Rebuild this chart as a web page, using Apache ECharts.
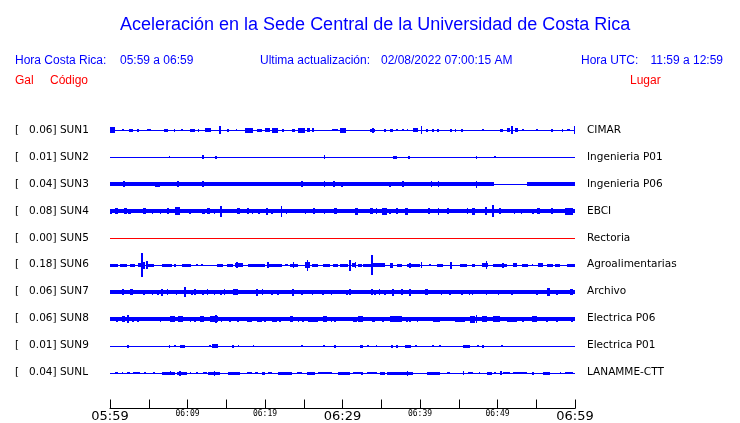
<!DOCTYPE html>
<html>
<head>
<meta charset="utf-8">
<script src="https://cdn.jsdelivr.net/npm/echarts@6/dist/echarts.min.js"></script>
<style>
  html, body { margin: 0; padding: 0; background: #fff; }
  #chart { width: 740px; height: 423px; }
</style>
</head>
<body>
<div id="chart"></div>
<script>
// estaciones, de arriba hacia abajo
const codes = ["SUN1", "SUN2", "SUN3", "SUN4", "SUN5", "SUN6", "SUN7", "SUN8", "SUN9", "SUNL"]
const galValues = ["0.06", "0.01", "0.04", "0.08", "0.00", "0.18", "0.06", "0.06", "0.01", "0.04"]
const places = ["CIMAR", "Ingenieria P01", "Ingenieria P06", "EBCI", "Rectoria", "Agroalimentarias",
  "Archivo", "Electrica P06", "Electrica P01", "LANAMME-CTT"]

// etiquetas del eje de tiempo (minutos 0..60 cada 5)
const tickLabels = ["05:59", "", "06:09", "", "06:19", "", "06:29", "", "06:39", "", "06:49", "", "06:59"]
const bigTicks = ["05:59", "06:29", "06:59"]

// envolvente de cada traza: [minuto inicio, minuto fin, amplitud (centesimas del espaciado)]
const sun1 = [[0, 60, 2], [0, 0.6, 11], [1.6, 1.8, 4], [2.5, 3.0, 6], [3.5, 3.7, 6], [4.8, 5.3, 4], [7.0, 7.5, 6],
  [8.2, 8.4, 6], [9.2, 9.4, 4], [10.3, 11.0, 6], [11.3, 11.5, 6], [12.3, 13.0, 7], [14.1, 14.3, 15], [15.1, 15.3, 6],
  [16.2, 16.4, 4], [17.4, 18.4, 9], [19.0, 19.6, 6], [20.0, 20.6, 7], [20.9, 21.7, 9], [22.2, 22.4, 6], [23.5, 23.9, 6],
  [24.3, 25.2, 9], [25.4, 25.8, 7], [26.1, 26.3, 7], [28.6, 29.4, 4], [29.7, 30.4, 9], [33.5, 34.2, 6], [33.8, 34.0, 9],
  [35.4, 35.6, 6], [36.1, 36.5, 6], [36.9, 37.1, 4], [37.7, 37.9, 4], [38.3, 38.5, 4], [39.1, 39.7, 7], [40.1, 40.3, 15],
  [40.8, 41.0, 6], [41.6, 41.8, 6], [42.2, 42.4, 6], [43.9, 44.1, 6], [44.5, 44.7, 6], [45.3, 45.5, 6], [48.0, 48.2, 4],
  [50.3, 50.7, 6], [51.2, 51.6, 7], [51.8, 52.0, 15], [52.2, 52.6, 7], [53.2, 53.4, 4], [55.0, 55.2, 4], [56.9, 57.1, 6],
  [58.3, 58.5, 6], [59.0, 59.3, 4], [59.85, 60, 15]]
const sun2 = [[0, 60, 2], [7.6, 7.8, 4], [11.9, 12.1, 8], [13.6, 13.8, 5], [27.6, 27.8, 7], [36.5, 37.0, 6],
  [38.5, 38.7, 6], [47.2, 47.4, 6], [49.6, 49.8, 4]]
const sun3 = [[0, 49.5, 7], [49.5, 53.8, 2], [53.8, 60, 7], [1.7, 1.9, 11], [5.8, 6.5, 9], [8.7, 8.9, 11],
  [11.9, 12.1, 11], [22.9, 23.1, 8], [24.7, 24.9, 11], [27.6, 27.8, 11], [28.8, 29.0, 11], [29.8, 30.0, 9],
  [35.0, 35.2, 8], [36.0, 36.2, 10], [37.7, 37.9, 11], [41.4, 41.6, 11], [42.3, 42.5, 11], [47.2, 47.4, 13], [48.1, 49.4, 8]]
const sun4 = [[0, 60, 7], [0, 0.2, 9], [0.6, 1.0, 11], [1.8, 2.2, 11], [2.3, 2.7, 9], [4.3, 4.6, 11], [5.4, 5.6, 9],
  [6.4, 6.6, 9], [7.4, 7.6, 11], [8.4, 9.0, 15], [10.2, 10.4, 9], [11.9, 12.3, 9], [12.5, 12.9, 11], [13.4, 13.6, 9],
  [14.2, 14.4, 20], [16.4, 16.8, 11], [17.7, 17.9, 11], [18.3, 18.5, 9], [19.1, 19.3, 9], [20.1, 20.4, 13], [20.8, 21.0, 9],
  [22.0, 22.2, 20], [22.7, 22.9, 9], [25.1, 25.3, 9], [26.2, 26.4, 11], [27.6, 27.8, 9], [28.9, 29.3, 11], [31.6, 32.0, 13],
  [33.5, 33.9, 11], [34.3, 34.5, 11], [35.1, 35.7, 13], [36.0, 36.2, 9], [36.9, 37.1, 11], [38.1, 38.4, 13], [41.0, 41.3, 11],
  [42.3, 42.5, 13], [43.5, 43.7, 11], [46.0, 46.2, 11], [46.7, 47.1, 13], [48.4, 48.6, 15], [49.3, 49.5, 22], [50.2, 50.4, 11],
  [52.1, 52.3, 9], [53.0, 53.2, 9], [54.5, 54.7, 9], [55.1, 55.5, 11], [56.9, 57.1, 11], [58.7, 59.7, 13]]
const sun5 = [[0, 60, 2]]
const sun6 = [[0, 60, 2], [0, 1.0, 6], [1.3, 2.2, 5], [2.6, 3.2, 6], [3.6, 4.0, 7], [4.05, 4.2, 44], [4.3, 4.5, 13],
  [4.7, 4.9, 15], [4.9, 5.7, 6], [6.7, 8.0, 6], [8.3, 8.5, 6], [9.3, 10.4, 6], [11.1, 11.3, 4], [11.8, 12.0, 4],
  [13.8, 14.6, 6], [15.1, 15.9, 6], [16.1, 17.2, 8], [16.3, 16.5, 11], [17.8, 20.0, 5], [20.3, 20.5, 11], [20.4, 22.2, 6],
  [22.6, 23.0, 4], [23.2, 24.3, 6], [23.6, 23.8, 11], [25.2, 25.8, 11], [25.4, 25.6, 20], [26.1, 26.8, 6], [27.5, 28.4, 6],
  [28.8, 29.4, 6], [29.7, 30.7, 5], [30.9, 31.1, 20], [31.2, 31.6, 8], [31.6, 31.8, 11], [32.0, 32.5, 6], [32.6, 33.8, 6],
  [33.7, 33.9, 37], [33.9, 35.5, 7], [36.1, 36.5, 9], [37.0, 37.7, 5], [38.3, 40.0, 6], [38.6, 38.8, 9], [40.1, 40.3, 11],
  [41.2, 41.4, 4], [42.2, 43.0, 5], [43.9, 44.1, 13], [45.2, 46.1, 6], [46.7, 47.1, 6], [48.0, 48.8, 8], [48.5, 48.7, 15],
  [49.4, 51.2, 6], [50.6, 50.8, 9], [52.0, 52.5, 8], [53.1, 53.9, 6], [54.4, 54.6, 4], [55.2, 55.9, 7], [56.4, 57.1, 6],
  [57.4, 58.1, 5], [59.0, 60, 6]]
const sun7 = [[0, 60, 7], [1.6, 1.8, 11], [2.6, 3.0, 11], [4.3, 4.5, 9], [5.4, 5.6, 9], [6.1, 6.3, 9], [6.6, 6.8, 13],
  [7.3, 7.5, 11], [8.5, 8.7, 9], [9.5, 9.8, 18], [10.5, 10.7, 9], [10.9, 11.1, 11], [11.9, 12.1, 9], [12.5, 12.7, 11],
  [13.4, 13.6, 9], [14.2, 14.4, 9], [14.7, 14.9, 11], [15.9, 16.5, 11], [18.9, 19.1, 13], [19.6, 19.8, 11], [20.8, 21.0, 9],
  [21.6, 21.8, 9], [23.5, 23.8, 13], [24.7, 24.9, 9], [26.0, 26.2, 9], [27.4, 27.6, 9], [28.5, 28.7, 9], [30.5, 30.7, 9],
  [30.9, 31.1, 11], [33.7, 33.9, 11], [34.1, 34.3, 9], [34.7, 34.9, 11], [35.4, 35.6, 9], [36.4, 36.6, 13], [37.6, 37.8, 11],
  [38.6, 38.8, 13], [40.6, 41.0, 11], [42.7, 42.9, 9], [43.8, 44.0, 9], [45.3, 45.5, 9], [46.3, 46.5, 9], [46.7, 46.9, 9],
  [48.5, 48.7, 9], [50.0, 50.2, 9], [51.8, 52.0, 9], [55.0, 55.2, 9], [56.4, 56.8, 15], [57.6, 57.8, 9], [59.3, 59.7, 11]]
const sun8 = [[0, 60, 7], [0.8, 1.0, 9], [1.5, 1.9, 11], [2.2, 2.4, 15], [2.9, 3.1, 9], [3.5, 3.7, 9], [6.4, 6.6, 9],
  [7.7, 8.4, 11], [8.8, 9.4, 11], [10.3, 10.5, 9], [10.9, 11.1, 9], [11.6, 12.1, 11], [12.9, 13.9, 11], [13.6, 13.8, 15],
  [14.3, 14.5, 9], [15.4, 15.6, 9], [16.4, 16.6, 9], [17.7, 18.3, 9], [19.0, 19.6, 9], [19.9, 20.1, 9], [20.9, 21.5, 9],
  [21.8, 22.0, 9], [23.2, 23.6, 11], [24.2, 24.4, 9], [24.8, 25.0, 9], [25.5, 26.8, 9], [27.5, 28.0, 11], [28.5, 28.7, 9],
  [28.9, 29.1, 9], [31.3, 31.9, 9], [32.0, 32.6, 11], [33.8, 34.2, 9], [35.1, 35.3, 9], [36.1, 37.7, 11], [38.2, 38.4, 9],
  [38.6, 38.8, 9], [39.6, 39.8, 9], [41.7, 42.6, 9], [44.5, 45.8, 9], [46.4, 47.1, 13], [47.2, 47.4, 15], [48.0, 48.6, 11],
  [49.4, 50.3, 11], [51.2, 52.5, 9], [53.2, 53.4, 9], [54.4, 55.1, 11], [56.3, 56.5, 9], [57.6, 57.8, 9], [59.5, 59.7, 9]]
const sun9 = [[0, 60, 2], [2.2, 2.4, 6], [7.6, 7.8, 6], [8.3, 8.5, 4], [9.0, 9.7, 6], [12.8, 13.0, 4], [13.2, 13.9, 8],
  [15.8, 16.0, 6], [16.5, 16.7, 4], [18.4, 18.6, 4], [24.7, 24.9, 4], [27.5, 27.7, 4], [28.9, 29.1, 6], [32.2, 32.6, 6],
  [33.2, 33.4, 4], [34.3, 34.5, 3], [36.3, 36.5, 6], [36.9, 37.1, 6], [38.1, 38.8, 6], [39.4, 39.6, 3], [41.6, 41.8, 4],
  [42.5, 42.7, 4], [45.5, 46.4, 5], [47.4, 47.6, 4], [48.0, 48.2, 5], [50.5, 50.7, 4]]
const sunl = [[0, 60, 2], [0.6, 1.0, 4], [1.5, 1.7, 4], [2.2, 2.6, 4], [3.0, 3.9, 4], [4.4, 4.6, 3], [5.5, 5.8, 4],
  [6.7, 8.4, 5], [7.7, 7.9, 8], [8.6, 9.9, 6], [8.9, 9.1, 9], [10.3, 10.5, 4], [11.1, 11.3, 4], [12.0, 12.5, 4],
  [12.6, 14.2, 5], [13.4, 13.6, 9], [15.2, 16.8, 6], [17.7, 18.3, 4], [18.7, 19.1, 4], [19.6, 20.0, 5], [20.4, 20.9, 4],
  [21.7, 23.5, 5], [24.1, 24.8, 4], [25.4, 26.4, 5], [26.8, 28.6, 4], [29.4, 31.0, 5], [31.3, 32.5, 4], [32.4, 32.6, 6],
  [33.2, 34.4, 4], [34.8, 35.5, 5], [35.7, 39.1, 5], [37.1, 37.3, 6], [38.3, 38.5, 9], [40.9, 42.6, 5], [43.5, 43.9, 4],
  [45.5, 45.7, 8], [46.2, 46.8, 4], [47.6, 47.8, 4], [48.6, 49.3, 5], [49.6, 49.8, 4], [50.3, 50.6, 8], [50.7, 51.6, 4],
  [52.0, 53.8, 4], [54.5, 54.7, 5], [55.9, 56.8, 6], [58.0, 58.2, 4], [58.7, 59.7, 4]]

const traces = [sun1, sun2, sun3, sun4, sun5, sun6, sun7, sun8, sun9, sunl]

const BLUE = "#0000ff"
const RED = "#ff0000"
const labelFont = "DejaVu Sans"

const chartBox = echarts.init(document.getElementById("chart"))

const makeSeries = (segs, row) => ({
  type: "custom",
  silent: true,
  clip: false,
  encode: { x: [0, 1] },
  data: segs,
  renderItem: (params, api) => {
    const t0 = api.value(0)
    const t1 = api.value(1)
    const a = api.value(2) / 100
    const top = api.coord([t0, row - a])
    const bot = api.coord([t1, row + a])
    // fila de pixel de la linea base
    const cy = Math.round(api.coord([t0, row])[1])
    const x = Math.round(top[0])
    const w = Math.max(1, Math.round(bot[0]) - x)
    const h = Math.max(1, Math.round(Math.abs(bot[1] - top[1])))
    return {
      type: "rect",
      shape: { x: x, y: cy - Math.floor(h / 2), width: w, height: h },
      style: { fill: codes[row] === "SUN5" ? RED : BLUE }
    }
  }
})

const headerText = (x, y, text, color, align) => ({
  type: "text",
  x: x,
  y: y,
  silent: true,
  style: {
    text: text,
    fill: color,
    font: "12px 'Liberation Sans'",
    align: align || "left",
    verticalAlign: "middle"
  }
})

const options = {
  animation: false,
  backgroundColor: "#fff",
  title: {
    text: "Aceleración en la Sede Central de la Universidad de Costa Rica",
    left: 115,
    top: 11,
    textStyle: { color: BLUE, fontSize: 18, fontWeight: "normal", fontFamily: "Liberation Sans" }
  },
  graphic: [
    headerText(15, 61, "Hora Costa Rica:", BLUE),
    headerText(120, 61, "05:59 a 06:59", BLUE),
    headerText(260, 61, "Ultima actualización:", BLUE),
    headerText(381, 61, "02/08/2022 07:00:15 AM", BLUE),
    headerText(581, 61, "Hora UTC:", BLUE),
    headerText(723, 61, "11:59 a 12:59", BLUE, "right"),
    headerText(15, 81, "Gal", RED),
    headerText(50, 81, "Código", RED),
    headerText(630, 81, "Lugar", RED)
  ],
  grid: { left: 110, right: 165, top: 103, bottom: 23 },
  xAxis: {
    type: "value",
    min: 0,
    max: 60,
    interval: 5,
    offset: 9,
    axisLine: { show: true, onZero: false, lineStyle: { color: "#000", width: 1 } },
    axisTick: { show: true, inside: true, length: 9, lineStyle: { color: "#000", width: 1 } },
    splitLine: { show: false },
    axisLabel: {
      margin: 1,
      showMinLabel: true,
      showMaxLabel: true,
      formatter: (v) => {
        const lab = tickLabels[Math.round(v / 5)] || ""
        if (!lab) return ""
        return bigTicks.includes(lab) ? "{big|" + lab + "}" : "{small|" + lab + "}"
      },
      rich: {
        big: { fontSize: 13, fontFamily: labelFont, color: "#000", lineHeight: 14 },
        small: { fontSize: 8, fontFamily: "DejaVu Sans Mono", color: "#000", lineHeight: 9 }
      }
    }
  },
  yAxis: [
    {
      type: "value",
      inverse: true,
      min: -1,
      max: 10,
      interval: 1,
      axisLine: { show: false },
      axisTick: { show: false },
      splitLine: { show: false },
      axisLabel: {
        align: "left",
        margin: 95,
        padding: [2, 0, 0, 0],
        fontSize: 10.5,
        fontFamily: labelFont,
        color: "#000",
        formatter: (v) => (v >= 0 && v < codes.length ? "[   " + galValues[v] + "] " + codes[v] : "")
      }
    },
    {
      type: "value",
      position: "right",
      inverse: true,
      min: -1,
      max: 10,
      interval: 1,
      axisLine: { show: false },
      axisTick: { show: false },
      splitLine: { show: false },
      axisLabel: {
        margin: 12,
        padding: [2, 0, 0, 0],
        fontSize: 10.5,
        fontFamily: labelFont,
        color: "#000",
        formatter: (v) => (v >= 0 && v < places.length ? places[v] : "")
      }
    }
  ],
  series: traces.map((segs, i) => makeSeries(segs, i))
}

chartBox.setOption(options)
</script>
</body>
</html>
